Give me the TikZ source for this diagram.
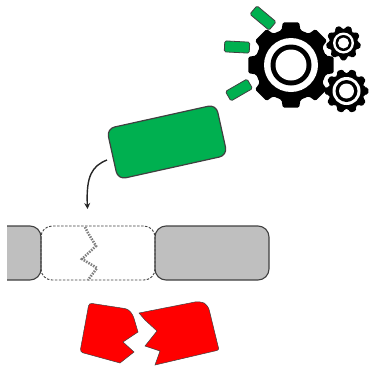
\documentclass[tikz,border=0pt]{standalone}
\usetikzlibrary{arrows.meta}
\definecolor{grn}{HTML}{00B050}
\definecolor{edge}{HTML}{404040}
\definecolor{barfill}{HTML}{BFBFBF}
\newcommand{\gearshape}[6]{% cx cy Router Rroot teeth phase
  \pgfmathsetmacro{\st}{360/#5}
  \pgfmathsetmacro{\lastt}{int(#5-1)}
  \fill[black,rounded corners=1.5pt]
    ({#1+#4*cos(#6-0.34*\st)},{#2+#4*sin(#6-0.34*\st)})
    \foreach \i [evaluate=\i as \a using #6+\i*\st] in {0,...,\lastt}{
      -- ({#1+#4*cos(\a-0.34*\st)},{#2+#4*sin(\a-0.34*\st)})
      -- ({#1+#3*cos(\a-0.24*\st)},{#2+#3*sin(\a-0.24*\st)})
      -- ({#1+#3*cos(\a+0.24*\st)},{#2+#3*sin(\a+0.24*\st)})
      -- ({#1+#4*cos(\a+0.34*\st)},{#2+#4*sin(\a+0.34*\st)})
    } -- cycle;
}
\tikzset{
  x=1pt,y=-1pt,
  tab/.style={draw=edge,line width=0.8pt,fill=grn,rounded corners=1.5pt,minimum width=25pt,minimum height=11pt,inner sep=0pt},
  bigtab/.style={draw=edge,line width=1.2pt,fill=grn,rounded corners=8pt,minimum width=112pt,minimum height=52pt,inner sep=0pt},
  bar/.style={draw=edge,line width=1.1pt,fill=barfill},
  ghost/.style={draw=edge,line width=0.9pt,dash pattern=on 2.5pt off 1.5pt},
  crack/.style={draw=gray,line width=2.6pt,dash pattern=on 1.5pt off 1.2pt},
  shard/.style={fill=red,draw=edge,line width=0.5pt}
}
\begin{document}
\begin{tikzpicture}
\useasboundingbox (0,0) rectangle (370,365);
% gears
\gearshape{291}{65}{43.5}{36}{8}{0}
\fill[white] (291,65) circle[radius=27];
\fill[black] (291,65) circle[radius=20.5];
\fill[white] (291,65) circle[radius=15.5];
\gearshape{343.5}{43}{17.5}{14}{9}{10}
\fill[white] (343.5,43) circle[radius=10.5];
\fill[black] (343.5,43) circle[radius=8];
\fill[white] (343.5,43) circle[radius=5.5];
\gearshape{346.5}{91}{22}{18}{10}{0}
\fill[white] (346.5,91) circle[radius=14];
\fill[black] (346.5,91) circle[radius=11];
\fill[white] (346.5,91) circle[radius=7.5];
% small tabs
\node[tab,rotate=-40] (t1) at (263,18) {};
\node[tab,rotate=-3] (t2) at (237,47) {};
\node[tab,rotate=30] (t3) at (239,90) {};
% big tab and arrow
\node[bigtab,rotate=12.5] (big) at (167,142) {};
\coordinate (astart) at (107,160);
\coordinate (aend) at (87.5,209);
\draw[-{Stealth[length=6pt,width=6pt]},line width=1.4pt,draw=black!85] (astart) .. controls (92,166) and (86,176) .. (aend);
% bar
\fill[barfill,rounded corners=11pt] (-20,226) rectangle (41,280);
\draw[edge,line width=1.1pt,rounded corners=11pt] (7,226) -- (41,226) -- (41,280) -- (7,280);
\fill[white] (0,220) rectangle (7,285);
\node[bar,rounded corners=11pt,minimum width=114pt,minimum height=54pt,inner sep=0pt] (rb) at (212,253) {};
\draw[ghost,rounded corners=11pt] (41,226) rectangle (155,280);
\draw[crack] (85,227) -- (88,233) -- (96,246) -- (82,259) -- (97,268) -- (88,280);
% shards
\draw[shard] [rounded corners=3pt] (120,363) -- (80,352) -- (89,303) -- (128,309) -- (133,315) [sharp corners] -- (138,332) -- (123,342) -- (134,352) -- cycle;
\draw[shard] (139,313) [rounded corners=5pt] -- (200,301) -- (208,305) [rounded corners=2pt] -- (219,350) [sharp corners] -- (155,365) -- (160,351) -- (145,346) -- (157,331) -- (145,320) -- cycle;
\end{tikzpicture}
\end{document}
